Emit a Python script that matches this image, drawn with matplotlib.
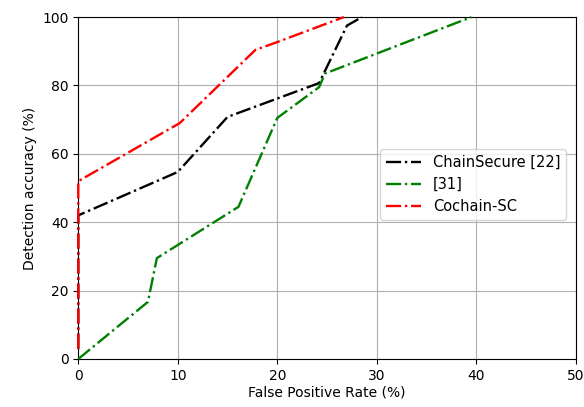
import numpy as np
import matplotlib
matplotlib.use("Agg")
import matplotlib.pyplot as plt

fpr_chainsecure = [0, 0, 10, 15, 24.2, 27, 28.5]
acc_chainsecure = [3, 42, 54.7, 70.8, 80.7, 97.5, 100]

fpr_ref31 = [0, 7, 7.9, 16.1, 20, 24.2, 24.8, 39.5]
acc_ref31 = [0, 16.7, 29.5, 44.5, 70.5, 79.5, 83.5, 100]

fpr_cochain = [0, 0, 10.2, 17.8, 20, 26.7]
acc_cochain = [3, 52, 69, 90.4, 92.7, 100]

labels = ['ChainSecure [22]', '[31]', 'Cochain-SC']

fig, ax = plt.subplots(figsize=(5.84, 4.07), dpi=100)
ax.plot(fpr_chainsecure, acc_chainsecure, 'k-.', lw=1.7, label=labels[0],
        clip_on=False, zorder=3)
ax.plot(fpr_ref31, acc_ref31, 'g-.', lw=1.7, label=labels[1],
        clip_on=False, zorder=3)
ax.plot(fpr_cochain, acc_cochain, 'r-.', lw=1.7, label=labels[2],
        clip_on=False, zorder=3)

ax.set_xlim(0, 50)
ax.set_ylim(0, 100)
ax.set_xticks([0, 10, 20, 30, 40, 50])
ax.set_yticks([0, 20, 40, 60, 80, 100])
ax.grid(True, color='#b0b0b0', lw=0.8)
ax.set_xlabel('False Positive Rate (%)', fontsize=10, labelpad=2)
ax.set_ylabel('Detection accuracy (%)', fontsize=10)
ax.tick_params(labelsize=10)
ax.legend(loc='center right', bbox_to_anchor=(0.995, 0.51), fontsize=10.5,
          handlelength=2.4)

plt.subplots_adjust(left=0.134, right=0.986, top=0.958, bottom=0.118)
plt.savefig('out.png', dpi=100)
